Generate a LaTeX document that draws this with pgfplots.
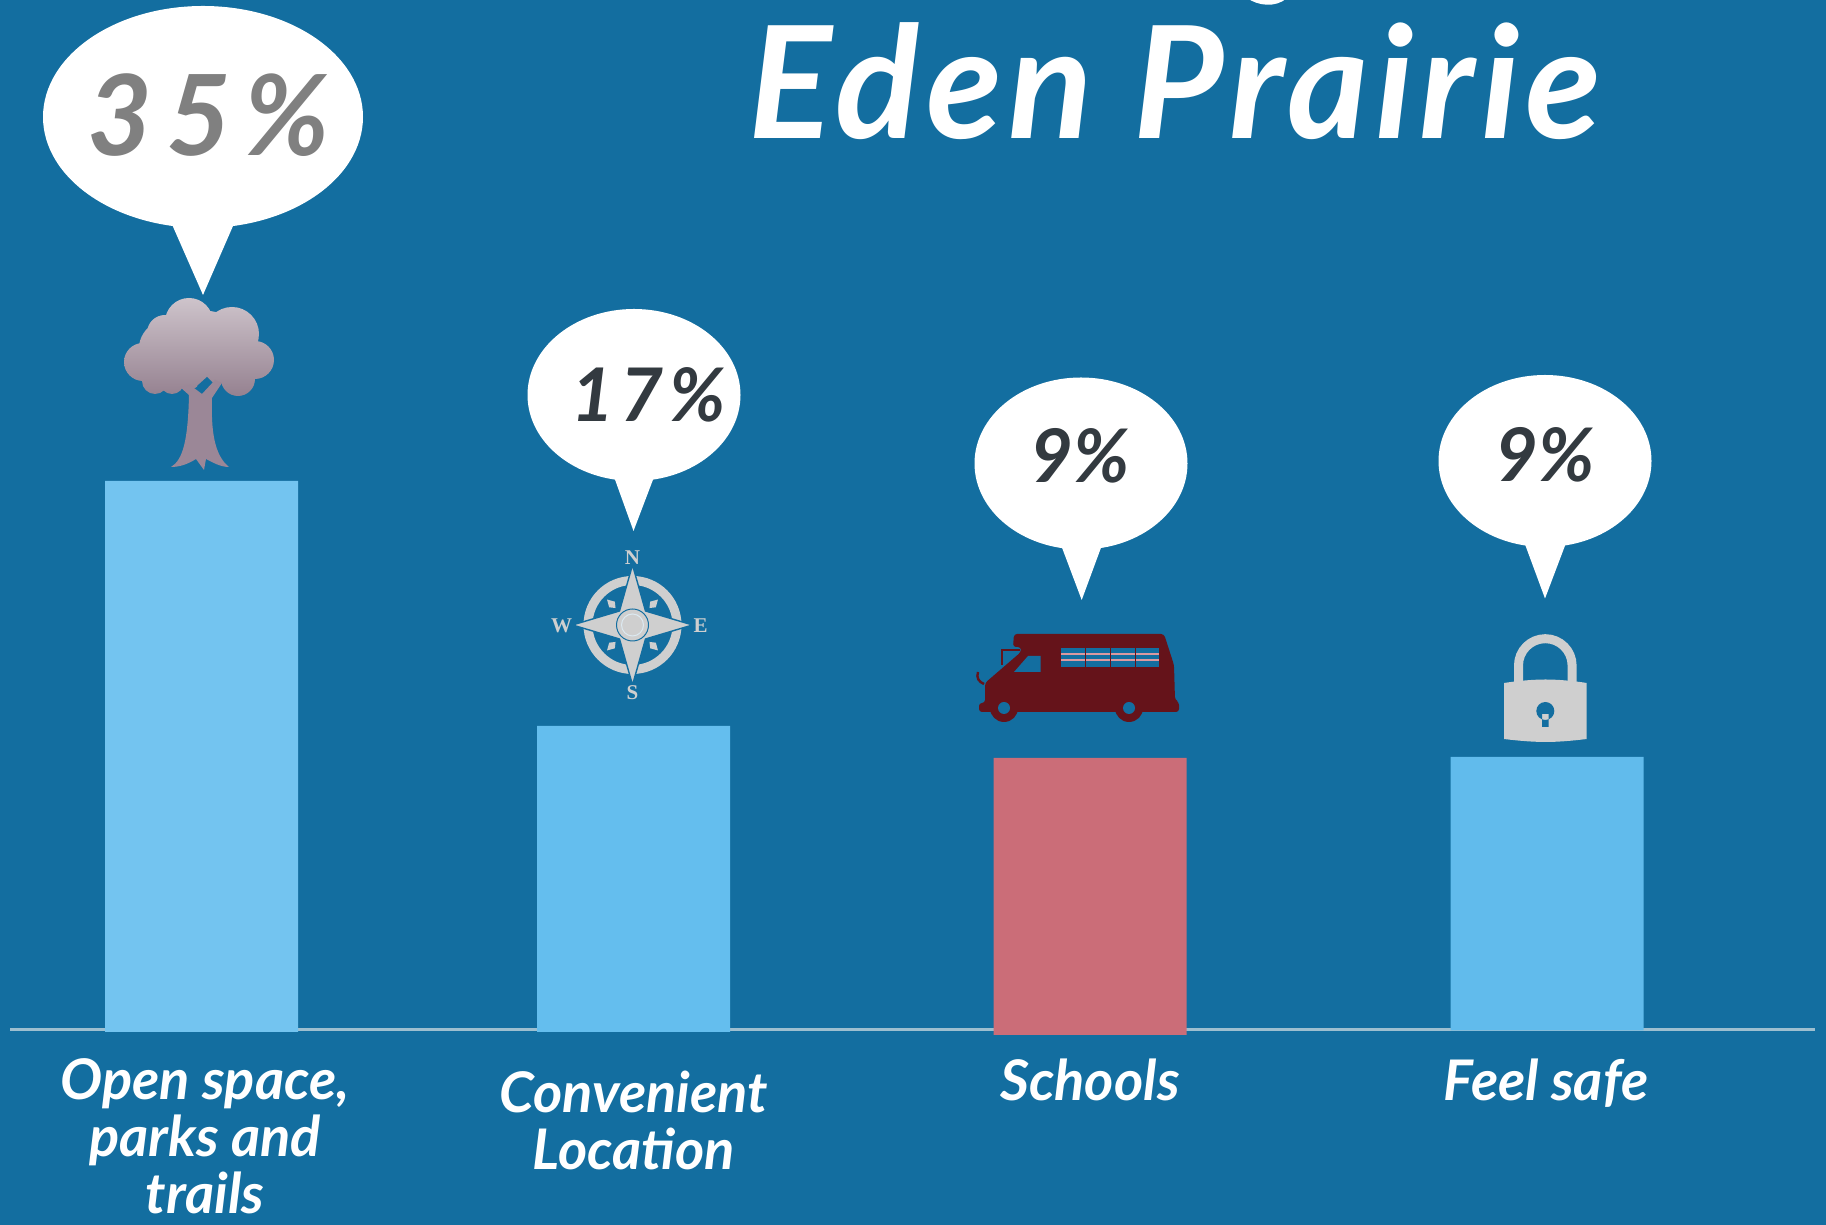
\documentclass[border=0pt]{standalone}
\usepackage{fontspec}
\usepackage{pgfplots}
\pgfplotsset{compat=1.18}
\setmainfont{Lato}
\newfontfamily\serifbold{Liberation Serif}
\definecolor{bg}{HTML}{136EA0}
\definecolor{barA}{HTML}{73C4F0}
\definecolor{barB}{HTML}{64BEEE}
\definecolor{barC}{HTML}{CB6D78}
\definecolor{barD}{HTML}{61BBEC}
\definecolor{axisline}{HTML}{9DBFD0}
\definecolor{darktext}{HTML}{333A40}
\definecolor{midtext}{HTML}{808080}
\definecolor{van}{HTML}{65131A}
\definecolor{iconlight}{HTML}{CFCFCF}
\definecolor{treetop}{HTML}{CFC5CC}
\definecolor{treelow}{HTML}{94808F}
\definecolor{trunk}{HTML}{9B8797}
\newcommand{\callout}[9]{%
  % cx cy rx ry, tail left x, right x, base y, tip x, tip y
  \fill[white] (#1,#2) ellipse [x radius=#3,y radius=#4];
  \fill[white] (#5,#7) -- (#8,#9) -- (#6,#7) -- cycle;}
\begin{document}
\begin{tikzpicture}
\useasboundingbox (0,0) rectangle (913pt,612.5pt);
\clip (0,0) rectangle (913pt,612.5pt);
\fill[bg] (0,0) rectangle (913pt,612.5pt);
\begin{axis}[
    at={(0,0)},anchor=south west,
    scale only axis,
    width=913pt,
    height=612.5pt,
    xmin=0,xmax=1826,
    ymin=-195.5,ymax=1029.5,
    clip=false,
    hide y axis,
    axis x line=middle,
    x axis line style={draw=none,-},
    major tick length=0pt,
    xtick={205,634,1090,1546},
    xticklabels={
      {Open space,\\parks and\\trails},
      {\rule{0pt}{27pt}Convenient\\Location},
      {Schools},
      {Feel safe}},
    xticklabel style={align=center,text=white,
      font=\fontsize{28}{28.5}\selectfont\bfseries\itshape,yshift=-11pt},
    bar width=193,
]
% line under the bars
\addplot[axisline,line width=1.5pt,forget plot] coordinates {(10,0) (1815,0)};
% bar heights and the small overhang below the line, px
\addplot[ybar,bar shift=0pt,fill=barA,draw=none] coordinates {(201.5,548.5) (201.5,-2.5)};
\addplot[ybar,bar shift=0pt,fill=barB,draw=none] coordinates {(633.5,303.5) (633.5,-2.5)};
\addplot[ybar,bar shift=0pt,fill=barC,draw=none] coordinates {(1090,271.5) (1090,-5.5)};
\addplot[ybar,bar shift=0pt,fill=barD,draw=none] coordinates {(1547,272.5) (1547,-1)};
\end{axis}

% everything below is in reference pixels, y down
\begin{scope}[shift={(0,612.5pt)},x=0.5pt,y=-0.5pt]
% title, the line above it is cut off by the top edge
\node[white,font=\fontsize{78}{82}\selectfont\bfseries\itshape,anchor=base] at (1175,139) {\addfontfeature{LetterSpace=4}Eden Prairie};
\fill[white] (1247,-2) .. controls (1258,6) and (1276,8) .. (1287,-2) -- cycle;

% speech bubbles
\callout{203}{117}{160}{111}{172.7}{233}{226}{203}{295}
\callout{634}{395}{106.5}{86}{613.7}{654.4}{476}{633.5}{531}
\callout{1081}{463.5}{106.5}{86}{1061}{1102}{545}{1081.7}{600}
\callout{1545}{461}{106.5}{86}{1524.5}{1566}{543}{1545}{598.5}
\node[midtext,font=\fontsize{56}{58}\selectfont\bfseries\itshape] at (209,115) {\addfontfeature{LetterSpace=12}35\%};
\node[darktext,font=\fontsize{37}{40}\selectfont\bfseries\itshape] at (649,395) {\addfontfeature{LetterSpace=8}17\%};
\node[darktext,font=\fontsize{37}{40}\selectfont\bfseries\itshape] at (1080,456) {9\%};
\node[darktext,font=\fontsize{37}{40}\selectfont\bfseries\itshape] at (1545,455) {9\%};

% tree
\begin{scope}
  \clip (189,322) circle (24) (232,334) circle (27) (165,333) circle (18)
        (143,362) circle (19) (255,360) circle (19) (197,348) ellipse [x radius=58,y radius=38]
        (160,362) circle (25) (235,362) circle (25)
        (155,381) circle (13) (172,382) circle (12) (190,376) circle (13) (238,379) circle (17);
  \shade[top color=treetop,bottom color=treelow] (120,296) rectangle (276,398);
\end{scope}
\fill[bg] (197,386) -- (207,377) -- (216,386) -- (205,395) -- cycle;
\fill[trunk] (171,467) .. controls (183,460) and (188,440) .. (189,395)
      -- (180,387) -- (190,385) -- (202,394) -- (215,380) -- (222,383) -- (212,398)
      .. controls (211,430) and (214,455) .. (229,467) .. controls (220,467) and (212,462) .. (206,459)
      -- (204,470) -- (196,459) .. controls (188,464) and (180,467) .. (171,467) -- cycle;

% compass
\begin{scope}[shift={(632.5,625)}]
  \draw[iconlight,line width=4.5pt] (0,0) circle (44.5);
  \foreach \a in {45,135,225,315}
    \fill[iconlight,rotate=\a] (24,0) -- (29,-4) -- (36,0) -- (29,4) -- cycle;
  \filldraw[fill=iconlight,draw=bg,line width=0.7pt] (0,-60) -- (13,-14) -- (60,0) -- (13,14) -- (0,60) -- (-13,14) -- (-60,0) -- (-13,-14) -- cycle;
  \filldraw[fill=iconlight,draw=bg,line width=0.5pt] (0,0) circle (16);
  \draw[white!85!bg,line width=0.5pt] (0,0) circle (11);
  \foreach \t/\x/\y in {N/0/-67,S/0/68,E/68/1,W/-71/1}
    \node[iconlight,font=\serifbold\bfseries\fontsize{10.5}{10.5}\selectfont,inner sep=0pt] at (\x,\y) {\t};
\end{scope}

% van
\fill[van,rounded corners=1.5pt] (1014,634) -- (1164,634) -- (1174,665) -- (1175,700) -- (1179,702) -- (1179,712)
   -- (979,712) -- (979,703) -- (985,703) -- (985,683) -- (1021,652) -- (1021,647) -- (1013,647) -- cycle;
\fill[van] (1004,708) circle (14) (1129,708) circle (14);
\fill[bg] (1004,708) circle (6) (1129,708) circle (6);
\fill[bg] (1014,672) -- (1028,656) -- (1040.5,656) -- (1040.5,672) -- cycle;
\fill[bg] (1061,648) rectangle (1159,667);
\draw[barC!70!white,line width=0.7pt] (1061,654) -- (1159,654) (1061,660) -- (1159,660);
\draw[van,line width=0.5pt] (1085.6,648) -- (1085.6,667) (1110.3,648) -- (1110.3,667) (1135,648) -- (1135,667);
\draw[van,line width=1.2pt] (1002,665) -- (1002,650) -- (1020,650);
\draw[van,line width=1.2pt] (978,672) .. controls (976,678) and (979,682) .. (984,684);

% lock
\draw[iconlight,line width=4.5pt] (1518.5,686) -- (1518.5,665.5) arc [start angle=180,end angle=360,radius=26.8] -- (1572.1,686);
\fill[iconlight] (1504,683) .. controls (1520,680.5) and (1535,679.5) .. (1545.5,679.5)
   .. controls (1556,679.5) and (1571,680.5) .. (1586.7,683) -- (1586.7,739)
   .. controls (1571,741) and (1556,742) .. (1545.5,742)
   .. controls (1535,742) and (1520,741) .. (1504,739) -- cycle;
\fill[bg] (1545.3,711) circle (9) (1542,714) rectangle (1548.5,727);
\end{scope}
\end{tikzpicture}
\end{document}
